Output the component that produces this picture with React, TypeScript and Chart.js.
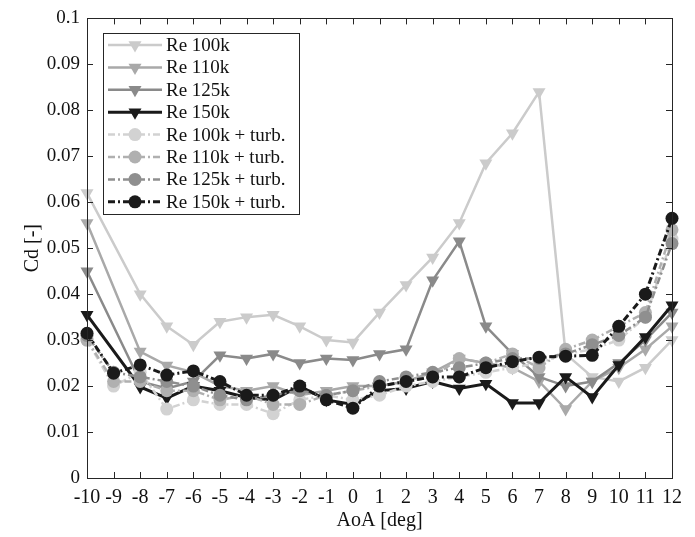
import React, { useEffect, useRef } from "react";
import { Chart, registerables } from "chart.js";

Chart.register(...registerables);

// ---------------- data ----------------
const aoa = [-10, -9, -8, -7, -6, -5, -4, -3, -2, -1, 0, 1, 2, 3, 4, 5, 6, 7, 8, 9, 10, 11, 12];
const xTickValues = [-10, -9, -8, -7, -6, -5, -4, -3, -2, -1, 0, 1, 2, 3, 4, 5, 6, 7, 8, 9, 10, 11, 12];
const yTickValues = [0, 0.01, 0.02, 0.03, 0.04, 0.05, 0.06, 0.07, 0.08, 0.09, 0.1];

const seriesLabels = [
  "Re 100k",
  "Re 110k",
  "Re 125k",
  "Re 150k",
  "Re 100k + turb.",
  "Re 110k + turb.",
  "Re 125k + turb.",
  "Re 150k + turb.",
];

const re100 = [0.062, null, 0.040, 0.033, 0.029, 0.034, 0.035, 0.0355, 0.033, 0.030, 0.0295, 0.036, 0.042, 0.048, 0.0555, 0.0685, 0.075, 0.084, 0.027, 0.022, 0.021, 0.024, 0.030];
const re110 = [0.0555, null, 0.0275, 0.0245, 0.023, 0.020, 0.019, 0.020, 0.018, 0.019, 0.020, 0.020, 0.021, 0.023, 0.026, 0.025, 0.024, 0.021, 0.015, 0.021, 0.024, 0.028, 0.033];
const re125 = [0.045, null, 0.021, 0.0195, 0.021, 0.0267, 0.026, 0.027, 0.025, 0.026, 0.0257, 0.027, 0.028, 0.043, 0.0515, 0.033, 0.027, 0.022, 0.020, 0.021, 0.025, 0.030, 0.036];
const re150 = [0.0355, null, 0.0198, 0.0174, 0.020, 0.019, 0.0175, 0.017, 0.020, 0.017, 0.016, 0.019, 0.0195, 0.021, 0.0195, 0.0205, 0.0163, 0.0163, 0.022, 0.0176, 0.0246, 0.0307, 0.0376];
const re100t = [0.030, 0.020, 0.023, 0.015, 0.017, 0.016, 0.016, 0.014, 0.017, 0.018, 0.017, 0.018, 0.020, 0.021, 0.022, 0.023, 0.024, 0.025, 0.027, 0.028, 0.030, 0.035, 0.052];
const re110t = [0.030, 0.021, 0.021, 0.019, 0.019, 0.017, 0.018, 0.016, 0.016, 0.018, 0.019, 0.020, 0.021, 0.022, 0.026, 0.025, 0.027, 0.024, 0.028, 0.030, 0.033, 0.036, 0.054];
const re125t = [0.031, 0.023, 0.022, 0.021, 0.020, 0.018, 0.017, 0.018, 0.019, 0.018, 0.019, 0.021, 0.022, 0.023, 0.024, 0.025, 0.026, 0.026, 0.027, 0.029, 0.031, 0.035, 0.051];
const re150t = [0.0315, 0.0228, 0.0246, 0.0224, 0.0233, 0.021, 0.018, 0.018, 0.020, 0.017, 0.0152, 0.020, 0.021, 0.022, 0.022, 0.024, 0.0253, 0.0263, 0.0265, 0.0267, 0.033, 0.040, 0.0565];

const seriesValues = [re100, re110, re125, re150, re100t, re110t, re125t, re150t];
const seriesColors = ["#cbcbcb", "#a9a9a9", "#8a8a8a", "#1a1a1a", "#d2d2d2", "#b0b0b0", "#8f8f8f", "#1a1a1a"];

const FONT = "'Liberation Serif', 'Times New Roman', serif";

function drawMarker(ctx: CanvasRenderingContext2D, style: string, x: number, y: number, r: number) {
  ctx.beginPath();
  if (style === "circle") {
    ctx.arc(x, y, r, 0, Math.PI * 2);
  } else {
    const a = Math.PI / 180;
    const pts = [180, 300, 60].map((d) => [x + Math.sin(d * a) * r, y - Math.cos(d * a) * r]);
    ctx.moveTo(pts[0][0], pts[0][1]);
    ctx.lineTo(pts[1][0], pts[1][1]);
    ctx.lineTo(pts[2][0], pts[2][1]);
    ctx.closePath();
  }
  ctx.fill();
}

const framePlugin = {
  id: "frameAndLegend",
  afterDraw(chart: any) {
    const ctx: CanvasRenderingContext2D = chart.ctx;
    const { left, right, top, bottom } = chart.chartArea;
    const xs = chart.scales.x;
    const ys = chart.scales.y;
    ctx.save();
    ctx.strokeStyle = "#262626";
    ctx.lineWidth = 1;
    ctx.setLineDash([]);
    ctx.strokeRect(Math.round(left) + 0.5, Math.round(top) + 0.5, Math.round(right - left), Math.round(bottom - top));
    const tl = 6;
    ctx.beginPath();
    xTickValues.forEach((v) => {
      const px = Math.round(xs.getPixelForValue(v)) + 0.5;
      ctx.moveTo(px, bottom);
      ctx.lineTo(px, bottom - tl);
      ctx.moveTo(px, top);
      ctx.lineTo(px, top + tl);
    });
    yTickValues.forEach((v) => {
      const py = Math.round(ys.getPixelForValue(v)) + 0.5;
      ctx.moveTo(left, py);
      ctx.lineTo(left + tl, py);
      ctx.moveTo(right, py);
      ctx.lineTo(right - tl, py);
    });
    ctx.stroke();

    // legend
    const bx = 103, by = 33, bw = 196, bh = 181;
    ctx.fillStyle = "#ffffff";
    ctx.fillRect(bx, by, bw, bh);
    ctx.strokeStyle = "#262626";
    ctx.strokeRect(bx + 0.5, by + 0.5, bw, bh);
    chart.data.datasets.forEach((ds: any, i: number) => {
      const y = 45 + i * 22.4;
      ctx.strokeStyle = ds.borderColor;
      ctx.lineWidth = ds.borderWidth;
      ctx.setLineDash(ds.borderDash || []);
      ctx.beginPath();
      ctx.moveTo(108, y);
      ctx.lineTo(162, y);
      ctx.stroke();
      ctx.setLineDash([]);
      ctx.fillStyle = ds.borderColor;
      drawMarker(ctx, ds.pointStyle, 135, y, ds.pointRadius);
      ctx.fillStyle = "#111111";
      ctx.font = `19px ${FONT}`;
      ctx.textBaseline = "middle";
      ctx.textAlign = "left";
      ctx.fillText(ds.label, 166, y + 1);
    });
    ctx.restore();
  },
};

export default function App() {
  const canvasRef = useRef<HTMLCanvasElement | null>(null);

  useEffect(() => {
    if (!canvasRef.current) return;
    const datasets = seriesLabels.map((label, i) => {
      const turb = i >= 4;
      const black = i % 4 === 3;
      return {
        label,
        data: aoa.map((x, j) => ({ x, y: seriesValues[i][j] })),
        borderColor: seriesColors[i],
        backgroundColor: seriesColors[i],
        pointBackgroundColor: seriesColors[i],
        pointBorderColor: seriesColors[i],
        pointBorderWidth: 0,
        borderWidth: black ? 3 : 2.5,
        borderDash: turb ? [7, 3, 2, 3] : [],
        pointStyle: turb ? "circle" : "triangle",
        rotation: turb ? 0 : 180,
        pointRadius: turb ? 6.5 : 7.5,
        spanGaps: true,
        tension: 0,
        clip: false as any,
        order: 8 - i,
      };
    });

    const chart = new Chart(canvasRef.current, {
      type: "line",
      data: { datasets: datasets as any },
      options: {
        animation: false,
        responsive: false,
        maintainAspectRatio: false,
        layout: { padding: { left: 0, right: 23, top: 18, bottom: 0 } },
        plugins: { legend: { display: false }, tooltip: { enabled: false } },
        scales: {
          x: {
            type: "linear",
            min: -10,
            max: 12,
            afterFit: (s: any) => {
              s.height = 59;
            },
            afterBuildTicks: (s: any) => {
              s.ticks = xTickValues.map((v) => ({ value: v }));
            },
            grid: { display: false, drawTicks: false },
            border: { display: false },
            ticks: {
              padding: 8,
              color: "#111111",
              font: { family: FONT, size: 20 },
              maxRotation: 0,
              autoSkip: false,
              callback: (v: any) => String(v),
            },
            title: {
              display: true,
              text: "AoA [deg]",
              color: "#111111",
              font: { family: FONT, size: 20 },
              padding: { top: 0, bottom: 4 },
            },
          },
          y: {
            type: "linear",
            min: 0,
            max: 0.1,
            afterFit: (s: any) => {
              s.width = 87;
            },
            afterBuildTicks: (s: any) => {
              s.ticks = yTickValues.map((v) => ({ value: v }));
            },
            grid: { display: false, drawTicks: false },
            border: { display: false },
            ticks: {
              padding: 7,
              color: "#111111",
              font: { family: FONT, size: 19 },
              callback: (v: any) => (v === 0 ? "0" : String(Number(Number(v).toFixed(2)))),
            },
            title: {
              display: true,
              text: "Cd [-]",
              color: "#111111",
              font: { family: FONT, size: 20 },
              padding: { top: 21, bottom: 0 },
            },
          },
        },
      },
      plugins: [framePlugin],
    });
    return () => chart.destroy();
  }, []);

  return (
    <div style={{ position: "fixed", left: 0, top: 0, width: 695, height: 537, background: "#ffffff" }}>
      <canvas ref={canvasRef} width={695} height={537} style={{ width: 695, height: 537, display: "block" }} />
    </div>
  );
}
